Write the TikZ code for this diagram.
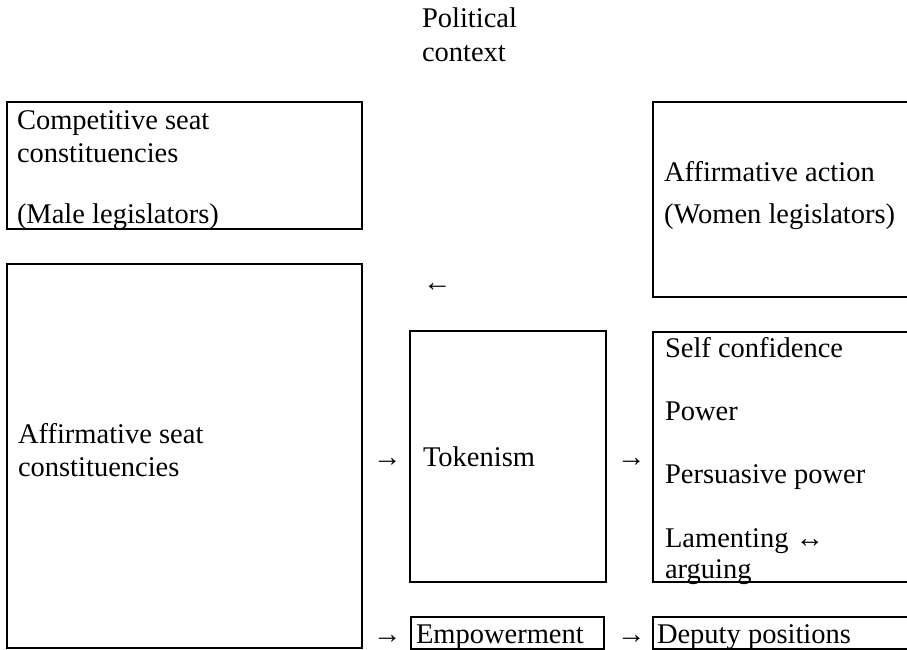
\documentclass[tikz,border=0pt]{standalone}
\usepackage{fontspec}
\setmainfont{Liberation Serif}
\tikzset{
  box/.style={draw, line width=1.3pt, inner sep=0pt, outer sep=0pt, anchor=north west},
  txt/.style={inner sep=0pt, outer sep=0pt, anchor=base west, font=\fontsize{28.5}{34}\selectfont},
}
\begin{document}
\begin{tikzpicture}[x=1pt,y=-1pt]
\useasboundingbox (0,0) rectangle (907,650);
\clip (0,0) rectangle (907,650);
% boxes
\node[box, minimum width=355pt, minimum height=127pt] (comp) at (7,102) {};
\node[box, minimum width=260pt, minimum height=195pt] (aa) at (653,102) {};
\node[box, minimum width=355pt, minimum height=384pt] (aseat) at (7,264) {};
\node[box, minimum width=196pt, minimum height=251pt] (tok) at (410,331) {};
\node[box, minimum width=260pt, minimum height=250pt] (self) at (653,332) {};
\node[box, minimum width=193pt, minimum height=32pt] (emp) at (411,617) {};
\node[box, minimum width=260pt, minimum height=32pt] (dep) at (653,617) {};
% texts
\node[txt] (pol1) at (422,28) {Political};
\node[txt] (pol2) at (422,62) {context};
\node[txt] (c1) at (17,130) {Competitive seat};
\node[txt] (c2) at (17,162) {constituencies};
\node[txt] (c3) at (17,223) {(Male legislators)};
\node[txt] (a1) at (664,181) {Affirmative action};
\node[txt] (a2) at (664,223) {(Women legislators)};
\node[txt] (larr) at (423,291) {←};
\node[txt] (s1) at (18,443) {Affirmative seat};
\node[txt] (s2) at (18,476) {constituencies};
\node[txt] (r1) at (373,466) {→};
\node[txt] (t1) at (423,466) {Tokenism};
\node[txt] (r2) at (617,466) {→};
\node[txt] (p1) at (665,357) {Self confidence};
\node[txt] (p2) at (665,420) {Power};
\node[txt] (p3) at (665,483) {Persuasive power};
\node[txt] (p4) at (665,547) {Lamenting ↔};
\node[txt] (p5) at (665,578) {arguing};
\node[txt] (r3) at (373,643) {→};
\node[txt] (e1) at (416,643) {Empowerment};
\node[txt] (r4) at (617,643) {→};
\node[txt] (d1) at (657,643) {Deputy positions};
\end{tikzpicture}
\end{document}
